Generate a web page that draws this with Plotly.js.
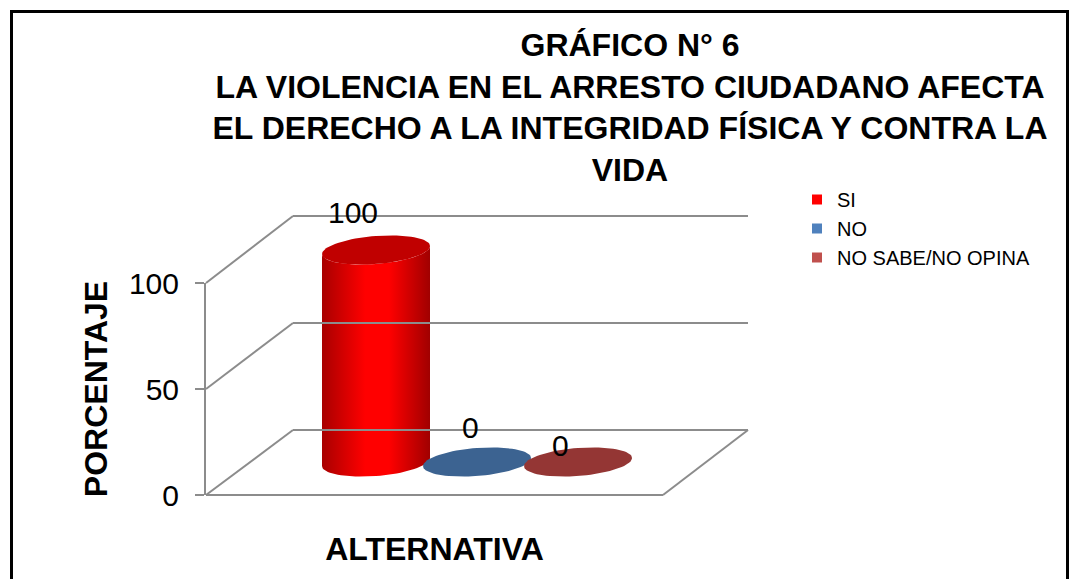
<!DOCTYPE html>
<html>
<head>
<meta charset="utf-8">
<script src="https://cdn.plot.ly/plotly-3.0.1.min.js"></script>
<style>html,body{margin:0;padding:0;background:#fff}#chart{width:1074px;height:579px}</style>
</head>
<body>
<div id="chart"></div>
<script>
// ---------- data ----------
const categories = ['SI', 'NO', 'NO SABE/NO OPINA'];
const values = [100, 0, 0];
const yTicks = [0, 50, 100];
const yTickLabels = ['0', '50', '100'];
const titleLines = ['GRÁFICO N° 6', 'LA VIOLENCIA EN EL ARRESTO CIUDADANO AFECTA', 'EL DERECHO A LA INTEGRIDAD FÍSICA Y CONTRA LA', 'VIDA'];
const xTitle = 'ALTERNATIVA';
const yTitle = 'PORCENTAJE';

// ---------- styles ----------
const legendColors = ['#ff0000', '#4f81bd', '#c0504d'];
const topColors = ['#c00000', '#3c6391', '#943634'];
const bodyScales = [
  [[0, '#a80000'], [0.4, '#ff0000'], [0.62, '#ff0000'], [1, '#a00000']],
  [[0, '#2f4f75'], [0.5, '#4f81bd'], [1, '#2f4f75']],
  [[0, '#7a2a28'], [0.5, '#c0504d'], [1, '#7a2a28']]
];
const labelShiftX = [-23, -7, -18];
const labelShiftY = [38, 35, 17];
const FONT = '"Liberation Sans", Arial, sans-serif';
const GRID = '#8c8c8c';

const W = 1074, H = 579;
const px = x => x / W;
const py = y => 1 - y / H;

// mid-depth plane (cylinders)
const C0 = 376, S = 101, Y0 = 462, K = 2.12;
// front plane
const FL = 206, FR = 663, FB = 495, FT = 283;
// back plane
const BL = 293, BR = 748, BB = 430, BT = 216;
const KB = (BB - BT) / 100;

const rx = 54 / S, ry = 14 / K, tilt = 4 / K;

function ellipse(cx, h, t0, t1, n) {
  const xs = [], ys = [];
  for (let j = 0; j <= n; j++) {
    const t = t0 + (t1 - t0) * j / n;
    xs.push(cx + rx * Math.cos(t));
    ys.push(h + ry * Math.sin(t) + tilt * Math.cos(t));
  }
  return [xs, ys];
}

const traces = [];
categories.forEach((c, i) => {
  const v = values[i];
  if (v > 0) {
    const [bx, by] = ellipse(i, 0, Math.PI, 2 * Math.PI, 40);
    const [tx, ty] = ellipse(i, v, 2 * Math.PI, Math.PI, 40);
    traces.push({
      type: 'scatter', mode: 'lines', x: bx.concat(tx), y: by.concat(ty),
      fill: 'toself', fillcolor: legendColors[i],
      fillgradient: {type: 'horizontal', colorscale: bodyScales[i]},
      line: {width: 0}, hoverinfo: 'skip', showlegend: false, xaxis: 'x', yaxis: 'y'
    });
  }
  const [ex, ey] = ellipse(i, v, 0, 2 * Math.PI, 80);
  traces.push({
    type: 'scatter', mode: 'lines', x: ex, y: ey, fill: 'toself',
    fillcolor: topColors[i], line: {width: 0}, hoverinfo: 'skip',
    showlegend: false, xaxis: 'x', yaxis: 'y'
  });
});
// legend entries
categories.forEach((c, i) => {
  traces.push({
    type: 'scatter', mode: 'markers', x: [null], y: [null], name: c,
    legendgroup: 'g' + i,
    marker: {symbol: 'square', size: 10, color: legendColors[i]},
    xaxis: 'x', yaxis: 'y', hoverinfo: 'skip'
  });
});
// anchor traces for the front and back planes
traces.push({type: 'scatter', x: [null], y: [null], xaxis: 'x2', yaxis: 'y2', showlegend: false, hoverinfo: 'skip'});
traces.push({type: 'scatter', x: [null], y: [null], xaxis: 'x3', yaxis: 'y3', showlegend: false, hoverinfo: 'skip'});

// side wall and floor lines
const shapes = [];
const yFront = v => FB - (FB - FT) * v / 100;
const yBack = v => BB - (BB - BT) * v / 100;
yTicks.forEach(v => {
  shapes.push({type: 'line', xref: 'paper', yref: 'paper',
    x0: px(FL), y0: py(yFront(v)), x1: px(BL), y1: py(yBack(v)),
    line: {color: GRID, width: 2}});
});
shapes.push({type: 'line', xref: 'paper', yref: 'paper',
  x0: px(FL), y0: py(FB), x1: px(FR), y1: py(FB), line: {color: GRID, width: 2}});
shapes.push({type: 'line', xref: 'paper', yref: 'paper',
  x0: px(FR), y0: py(FB), x1: px(BR), y1: py(BB), line: {color: GRID, width: 2}});
// outer frame
shapes.push({type: 'rect', xref: 'paper', yref: 'paper',
  x0: px(11.5), y0: -0.2, x1: px(1067.5), y1: py(11.5),
  line: {color: '#000', width: 3}, fillcolor: 'rgba(0,0,0,0)', layer: 'above'});

const annotations = categories.map((c, i) => ({
  xref: 'x', yref: 'y', x: i, y: values[i], text: String(values[i]),
  showarrow: false, xshift: labelShiftX[i], yshift: labelShiftY[i],
  font: {family: FONT, size: 30, color: '#000'}
}));

const layout = {
  width: W, height: H,
  margin: {l: 0, r: 0, t: 0, b: 0},
  paper_bgcolor: '#fff', plot_bgcolor: 'rgba(0,0,0,0)',
  font: {family: FONT, color: '#000'},
  title: {
    text: titleLines.join('<br>'),
    font: {family: FONT, size: 32, color: '#000', weight: 'bold'},
    xref: 'container', yref: 'container', x: 630 / W, xanchor: 'center',
    y: 1 - 56 / H, yanchor: 'middle'
  },
  showlegend: true,
  legend: {
    x: px(797), y: py(180), xanchor: 'left', yanchor: 'top',
    font: {family: FONT, size: 20, color: '#000'},
    bgcolor: 'rgba(0,0,0,0)', tracegroupgap: 0, itemwidth: 30
  },
  xaxis: {domain: [px(150), px(770)], range: [(150 - C0) / S, (770 - C0) / S],
    visible: false, fixedrange: true},
  yaxis: {domain: [py(520), py(200)], range: [(Y0 - 520) / K, (Y0 - 200) / K],
    visible: false, fixedrange: true},
  xaxis2: {domain: [px(FL), px(FR)], range: [0, 1], anchor: 'y2',
    showgrid: false, zeroline: false, showline: false, ticks: '', showticklabels: false,
    title: {text: xTitle, standoff: 42, font: {family: FONT, size: 32, weight: 'bold', color: '#000'}}},
  yaxis2: {domain: [py(FB), py(FT)], range: [0, 100], anchor: 'x2', side: 'left',
    showline: true, linecolor: GRID, linewidth: 2, ticks: 'outside', ticklen: 9,
    tickcolor: GRID, tickwidth: 2, tickvals: yTicks, ticktext: yTickLabels,
    ticklabelstandoff: 10,
    tickfont: {family: FONT, size: 30, color: '#000'}, showgrid: false, zeroline: false,
    title: {text: yTitle, standoff: 12, font: {family: FONT, size: 32, weight: 'bold', color: '#000'}}},
  xaxis3: {domain: [px(BL), px(BR)], range: [0, 1], anchor: 'y3', visible: false},
  yaxis3: {domain: [py(BB + 2 * KB), py(BT - 2 * KB)], range: [-2, 102], anchor: 'x3',
    showgrid: true, gridcolor: GRID, gridwidth: 2, tickvals: yTicks,
    showticklabels: false, ticks: '', zeroline: false, showline: false},
  shapes: shapes,
  annotations: annotations
};

Plotly.newPlot('chart', traces, layout, {displayModeBar: false, staticPlot: true});
</script>
</body>
</html>
